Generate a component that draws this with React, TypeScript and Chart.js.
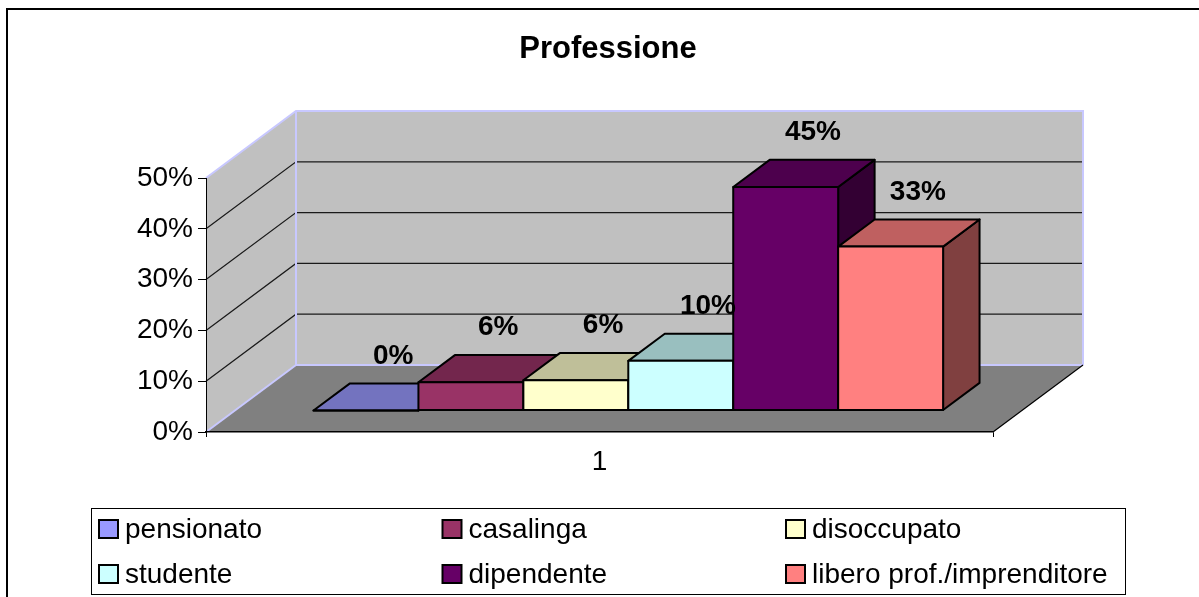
import React, { useEffect, useRef } from 'react';
import { Chart, registerables } from 'chart.js';

Chart.register(...registerables);

const TITLE = 'Professione';
const CATEGORIES = ['1'];
const SERIES_NAMES = ['pensionato', 'casalinga', 'disoccupato', 'studente', 'dipendente', 'libero prof./imprenditore'];
const SERIES_VALUES = [0, 5.7, 6.1, 10, 45, 33];
const SERIES_COLORS = ['#9999FF', '#993366', '#FFFFCC', '#CCFFFF', '#660066', '#FF8080'];
const Y_MIN = 0;
const Y_MAX = 50;
const Y_STEP = 10;

const FONT = '"Liberation Sans", Arial, Helvetica, sans-serif';
const DX = 90;
const DY = -67;
const BAR_FRAC = 0.32;
const BAR_DEPTH = 0.405;
const BAR_K = 0.978;

function shade(hex: string, f: number): string {
  const n = parseInt(hex.slice(1), 16);
  const r = Math.round(((n >> 16) & 255) * f);
  const g = Math.round(((n >> 8) & 255) * f);
  const b = Math.round((n & 255) * f);
  return `rgb(${r},${g},${b})`;
}

function poly(ctx: CanvasRenderingContext2D, pts: number[][], fill?: string, stroke?: string, lw = 1) {
  ctx.beginPath();
  ctx.moveTo(pts[0][0], pts[0][1]);
  for (let i = 1; i < pts.length; i++) ctx.lineTo(pts[i][0], pts[i][1]);
  ctx.closePath();
  if (fill) {
    ctx.fillStyle = fill;
    ctx.fill();
  }
  if (stroke) {
    ctx.strokeStyle = stroke;
    ctx.lineWidth = lw;
    ctx.lineJoin = 'round';
    ctx.stroke();
  }
}

function line(ctx: CanvasRenderingContext2D, pts: number[][], color: string, lw: number) {
  ctx.beginPath();
  ctx.moveTo(pts[0][0], pts[0][1]);
  for (let i = 1; i < pts.length; i++) ctx.lineTo(pts[i][0], pts[i][1]);
  ctx.strokeStyle = color;
  ctx.lineWidth = lw;
  ctx.stroke();
}

const threeDPlugin = {
  id: 'threeD',
  beforeDraw(chart: any) {
    const { ctx, chartArea: ca, scales } = chart;
    const y = scales.y;
    ctx.save();
    ctx.fillStyle = '#ffffff';
    ctx.fillRect(0, 0, chart.width, chart.height);
    ctx.strokeStyle = '#000000';
    ctx.lineWidth = 2;
    ctx.strokeRect(7, 9, chart.width + 40, chart.height + 40);

    const L = ca.left;
    const R = ca.right;
    const y0 = y.getPixelForValue(y.min);
    const yT = y.getPixelForValue(y.max);
    // floor
    poly(ctx, [[L, y0], [R, y0], [R + DX, y0 + DY], [L + DX, y0 + DY]], '#808080');
    // side wall
    poly(ctx, [[L, y0], [L, yT], [L + DX, yT + DY], [L + DX, y0 + DY]], '#c0c0c0');
    // back wall
    poly(ctx, [[L + DX, yT + DY], [R + DX, yT + DY], [R + DX, y0 + DY], [L + DX, y0 + DY]], '#c0c0c0');
    // gridlines
    for (const t of y.ticks) {
      const v = t.value;
      if (v <= y.min || v >= y.max) continue;
      const py = y.getPixelForValue(v);
      line(ctx, [[L, py], [L + DX, py + DY], [R + DX, py + DY]], '#1a1a1a', 1.2);
    }
    // wall edges
    const lav = '#c8c8ff';
    line(ctx, [[L, yT], [L + DX, yT + DY], [R + DX, yT + DY], [R + DX, y0 + DY]], lav, 2);
    line(ctx, [[L + DX, yT + DY], [L + DX, y0 + DY], [R + DX, y0 + DY]], lav, 2);
    line(ctx, [[L, y0], [L + DX, y0 + DY]], lav, 2);
    line(ctx, [[R, y0], [R + DX, y0 + DY]], '#000000', 1.2);
    ctx.restore();
  },
  beforeDatasetsDraw(chart: any) {
    const { ctx } = chart;
    ctx.save();
    const ox = BAR_FRAC * DX;
    const oy = BAR_FRAC * DY;
    const bdx = BAR_DEPTH * DX;
    const bdy = BAR_DEPTH * DY;
    const labels: any[] = [];
    chart.data.datasets.forEach((ds: any, i: number) => {
      const meta = chart.getDatasetMeta(i);
      if (meta.hidden) return;
      meta.data.forEach((el: any) => {
        const p = el.getProps(['x', 'y', 'base', 'width'], true);
        const x1 = p.x - p.width / 2 + ox;
        const x2 = p.x + p.width / 2 + ox;
        const yb = p.base + oy;
        const yt = yb + (p.y - p.base) * BAR_K;
        const col = ds.backgroundColor;
        // side
        poly(ctx, [[x2, yt], [x2 + bdx, yt + bdy], [x2 + bdx, yb + bdy], [x2, yb]], shade(col, 0.5), '#000', 2);
        // top
        poly(ctx, [[x1, yt], [x2, yt], [x2 + bdx, yt + bdy], [x1 + bdx, yt + bdy]], shade(col, 0.75), '#000', 2);
        // front
        poly(ctx, [[x1, yt], [x2, yt], [x2, yb], [x1, yb]], col, '#000', 2);
        const v = ds.data[0];
        labels.push({ text: Math.round(v) + '%', x: (x1 + x2) / 2 + bdx / 2 + 9, y: yt + bdy / 2 - 41 });
      });
    });
    ctx.fillStyle = '#000';
    ctx.font = `bold 28px ${FONT}`;
    ctx.textAlign = 'center';
    ctx.textBaseline = 'middle';
    for (const l of labels) ctx.fillText(l.text, l.x, l.y);
    ctx.restore();
    return false;
  },
  afterDraw(chart: any) {
    const { ctx } = chart;
    ctx.save();
    // title
    ctx.fillStyle = '#000';
    ctx.font = `bold 31px ${FONT}`;
    ctx.textAlign = 'center';
    ctx.textBaseline = 'middle';
    ctx.fillText(TITLE, 608, 49);

    // legend
    const bx = 91, by = 508, bw = 1034, bh = 86;
    ctx.fillStyle = '#fff';
    ctx.fillRect(bx, by, bw, bh);
    ctx.strokeStyle = '#000';
    ctx.lineWidth = 1;
    ctx.strokeRect(bx + 0.5, by + 0.5, bw, bh);
    const colX = [99, 442.5, 786];
    const rowY = [529, 574];
    ctx.font = `28px ${FONT}`;
    ctx.textAlign = 'left';
    ctx.textBaseline = 'middle';
    chart.data.datasets.forEach((ds: any, i: number) => {
      const cx = colX[i % 3];
      const cy = rowY[Math.floor(i / 3)];
      ctx.fillStyle = ds.backgroundColor;
      ctx.fillRect(cx, cy - 9, 19, 18);
      ctx.strokeStyle = '#000';
      ctx.lineWidth = 2;
      ctx.strokeRect(cx, cy - 9, 19, 18);
      ctx.fillStyle = '#000';
      ctx.fillText(ds.label, cx + 26, cy + 1);
    });
    ctx.restore();
  },
};

export default function App() {
  const ref = useRef<HTMLCanvasElement | null>(null);
  useEffect(() => {
    if (!ref.current) return;
    const chart = new Chart(ref.current, {
      type: 'bar',
      data: {
        labels: CATEGORIES,
        datasets: SERIES_NAMES.map((name, i) => ({
          label: name,
          data: [SERIES_VALUES[i]],
          backgroundColor: SERIES_COLORS[i],
          borderWidth: 0,
          barPercentage: 1.0,
          categoryPercentage: 0.8,
        })),
      },
      options: {
        animation: false,
        responsive: false,
        devicePixelRatio: 1,
        layout: { padding: { left: 106, right: 206, top: 178, bottom: 105 } },
        plugins: {
          legend: { display: false },
          title: { display: false },
          tooltip: { enabled: false },
        },
        scales: {
          x: {
            offset: true,
            grid: { display: true, drawOnChartArea: false, drawTicks: true, tickLength: 5, color: '#000', offset: true },
            border: { display: true, color: '#000', width: 1.5 },
            ticks: { color: '#000', font: { family: FONT, size: 28 }, padding: 8 },
            afterFit: (s: any) => { s.height = 60; },
          },
          y: {
            min: Y_MIN,
            max: Y_MAX,
            ticks: {
              stepSize: Y_STEP,
              color: '#000',
              font: { family: FONT, size: 28 },
              padding: 5,
              callback: (v: any) => v + '%',
            },
            grid: { display: true, drawOnChartArea: false, drawTicks: true, tickLength: 8, color: '#000' },
            border: { display: true, color: '#000', width: 1 },
            afterFit: (s: any) => { s.width = 100; },
          },
        },
      },
      plugins: [threeDPlugin],
    } as any);
    return () => chart.destroy();
  }, []);
  return (
    <canvas
      ref={ref}
      width={1199}
      height={597}
      style={{ position: 'absolute', left: 0, top: 0, width: 1199, height: 597 }}
    />
  );
}
